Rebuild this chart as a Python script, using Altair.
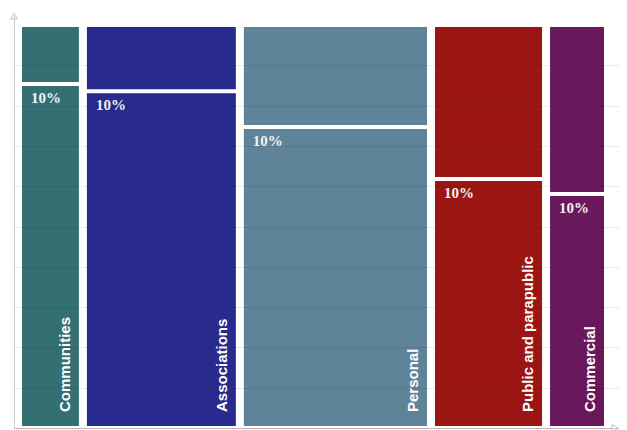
import altair as alt
import pandas as pd

categories = ["Communities", "Associations", "Personal", "Public and parapublic", "Commercial"]
widths = [11.0, 26.6, 32.4, 19.5, 10.5]          # share of the horizontal axis
bottom_share = [85.4, 83.6, 74.7, 61.8, 58.1]     # height of the lower block (%)
pct_labels = ["10%", "10%", "10%", "10%", "10%"]
colors = ["#346f72", "#282a8e", "#5f8499", "#9b1513", "#6a185c"]

starts, ends = [], []
acc = 0.0
for w in widths:
    starts.append(acc)
    acc += w
    ends.append(acc)

rows = []
for c, s, e, b, lab in zip(categories, starts, ends, bottom_share, pct_labels):
    rows.append({"cat": c, "start": s, "end": e, "lo": 0, "hi": b, "seg": "bottom", "lab": lab, "share": b})
    rows.append({"cat": c, "start": s, "end": e, "lo": b, "hi": 100, "seg": "top", "lab": lab, "share": b})
df = pd.DataFrame(rows)
bottoms = df[df.seg == "bottom"]

xscale = alt.Scale(domain=[-0.678, 101.864], nice=False, zero=False)
yscale = alt.Scale(domain=[0, 102.5], nice=False)
cscale = alt.Scale(domain=categories, range=colors)

rects = alt.Chart(df).mark_rect(xOffset=4, x2Offset=-4, yOffset=2, y2Offset=-2).encode(
    x=alt.X("start:Q", scale=xscale,
            axis=alt.Axis(labels=False, ticks=False, grid=False, title=None,
                          domainColor="#b8b8b8", domainWidth=1)),
    x2="end:Q",
    y=alt.Y("hi:Q", scale=yscale,
            axis=alt.Axis(labels=False, ticks=False, title=None, grid=True,
                          values=[10, 20, 30, 40, 50, 60, 70, 80, 90],
                          gridColor="#000000", gridOpacity=0.08,
                          domainColor="#cccccc", domainWidth=1, zindex=1)),
    y2="lo:Q",
    color=alt.Color("cat:N", scale=cscale, legend=None),
)

pct = alt.Chart(bottoms).mark_text(
    align="left", baseline="middle", dx=13, dy=14,
    font="Liberation Serif", fontWeight="bold", fontSize=15, color="#f2f2f2"
).encode(x=alt.X("start:Q", scale=xscale), y=alt.Y("share:Q", scale=yscale), text="lab:N")

names = alt.Chart(bottoms).mark_text(
    angle=270, align="left", baseline="alphabetic", dx=16, dy=-13,
    font="Liberation Sans", fontWeight="bold", fontSize=15, color="#ffffff"
).encode(x=alt.X("end:Q", scale=xscale), y=alt.Y("lo:Q", scale=yscale), text="cat:N")

arrow_up = alt.Chart(pd.DataFrame({"a": [0]})).mark_point(
    shape="triangle-up", size=45, filled=True, fill="#ffffff", stroke="#aaaaaa", strokeWidth=1
).encode(x=alt.value(0), y=alt.value(1))

arrow_right = alt.Chart(pd.DataFrame({"a": [0]})).mark_point(
    shape="triangle-right", size=45, filled=True, fill="#ffffff", stroke="#aaaaaa", strokeWidth=1
).encode(x=alt.value(601), y=alt.value(413))

chart = alt.layer(rects, pct, names, arrow_up, arrow_right).properties(
    width=605, height=413,
    autosize=alt.AutoSizeParams(type="none"),
    padding={"left": 6, "top": 7, "right": 0, "bottom": 2},
).configure_view(stroke=None)

chart.save("out.html", embed_options={"renderer": "svg", "actions": False})
